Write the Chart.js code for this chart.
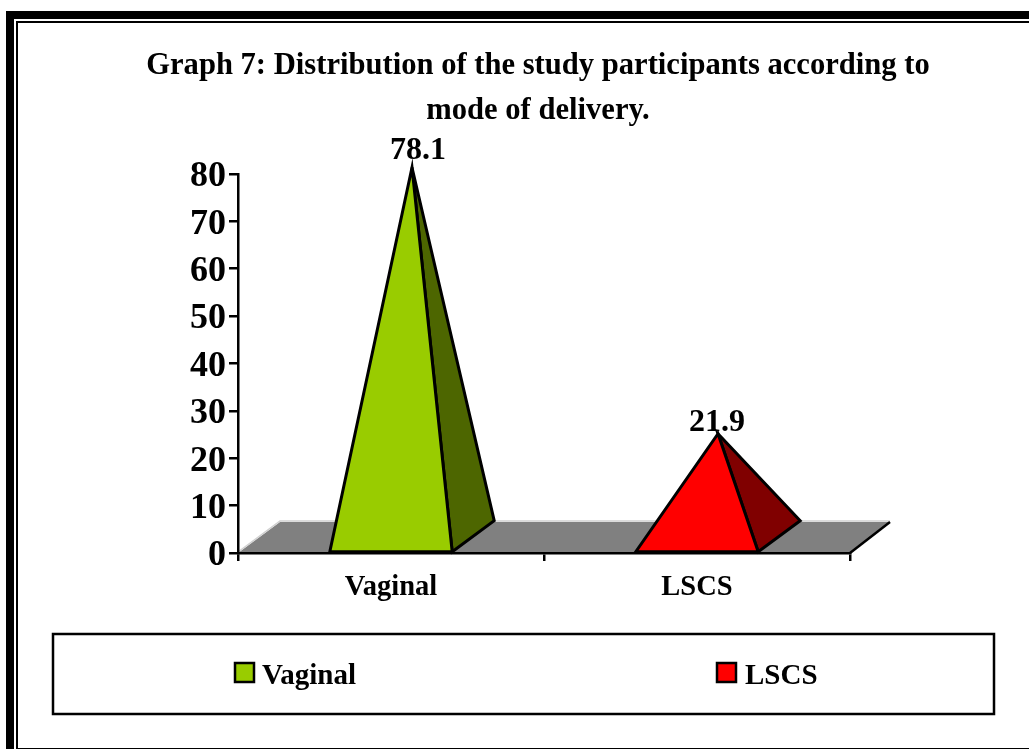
<!DOCTYPE html>
<html>
<head>
<meta charset="utf-8">
<title>Graph 7</title>
<script src="https://cdn.jsdelivr.net/npm/chart.js@4/dist/chart.umd.min.js"></script>
<style>
  html, body { margin: 0; padding: 0; background: #fff; }
  #wrap { position: relative; width: 1029px; height: 749px; overflow: hidden; }
  #thick { position: absolute; left: 6px; top: 11px; width: 1100px; height: 800px; border: 8px solid #000; border-right: 0; border-bottom: 0; }
  #thin { position: absolute; left: 16px; top: 21px; width: 1100px; height: 725px; border: 2px solid #000; border-right: 0; }
  canvas { position: absolute; left: 0; top: 0; }
</style>
</head>
<body>
<div id="wrap">
  <div id="thick"></div>
  <div id="thin"></div>
  <canvas id="chart" width="1029" height="749"></canvas>
</div>
<script>
const titleLines = ['Graph 7: Distribution of the study participants according to', 'mode of delivery.'];
const categories = ['Vaginal', 'LSCS'];
const values = [78.1, 21.9];
const yTicks = [0, 10, 20, 30, 40, 50, 60, 70, 80];
const frontColors = ['#99cc00', '#ff0000'];
const sideColors = ['#4d6600', '#800000'];

const serif = '"Liberation Serif", "Times New Roman", serif';
const depthX = 42, depthY = 31;

function poly(ctx, pts, fill, stroke, lw) {
  ctx.beginPath();
  pts.forEach((p, i) => i ? ctx.lineTo(p[0], p[1]) : ctx.moveTo(p[0], p[1]));
  ctx.closePath();
  if (fill) { ctx.fillStyle = fill; ctx.fill(); }
  if (stroke) { ctx.strokeStyle = stroke; ctx.lineWidth = lw; ctx.lineJoin = 'miter'; ctx.stroke(); }
}

// grey 3d floor under the pyramids
const floorPlugin = {
  id: 'floor',
  beforeDraw(chart) {
    const { ctx, chartArea: a } = chart;
    const y = chart.scales.y.getPixelForValue(0);
    ctx.save();
    poly(ctx, [[a.left, y], [a.left + depthX, y - depthY], [a.right + depthX - 2, y - depthY], [a.right, y]], '#808080');
    ctx.strokeStyle = '#d0d0d0';
    ctx.lineWidth = 1.5;
    ctx.beginPath();
    ctx.moveTo(a.left, y - 1);
    ctx.lineTo(a.left + depthX, y - depthY - 1);
    ctx.lineTo(a.right + depthX - 2, y - depthY - 1);
    ctx.stroke();
    ctx.strokeStyle = '#000';
    ctx.lineWidth = 2.5;
    ctx.beginPath();
    ctx.moveTo(a.right, y);
    ctx.lineTo(a.right + depthX - 2, y - depthY);
    ctx.stroke();
    ctx.restore();
  }
};

// the bars are laid out by chart.js, this turns each one into a pyramid
const pyramidPlugin = {
  id: 'pyramid',
  afterDatasetsDraw(chart) {
    const { ctx } = chart;
    const labelShift = [[6, -8], [-1, -3]];
    ctx.save();
    chart.getDatasetMeta(0).data.forEach((bar, i) => {
      const half = bar.width / 2;
      const apex = [bar.x + depthX / 2, bar.y - depthY / 2];
      const fr = [bar.x + half, bar.base];
      poly(ctx, [fr, [fr[0] + depthX, fr[1] - depthY], apex], sideColors[i], '#000', 3);
      poly(ctx, [[bar.x - half, bar.base], fr, apex], frontColors[i], '#000', 3);
      ctx.fillStyle = '#000';
      ctx.font = 'bold 32px ' + serif;
      ctx.textAlign = 'center';
      ctx.textBaseline = 'alphabetic';
      ctx.fillText(values[i].toFixed(1), apex[0] + labelShift[i][0], apex[1] + labelShift[i][1]);
    });
    ctx.restore();
  }
};

// boxed legend with wide spacing, the built in one can't be placed like this
const boxLegendPlugin = {
  id: 'boxLegend',
  afterDraw(chart) {
    const { ctx } = chart;
    const markerX = [235, 717];
    ctx.save();
    ctx.strokeStyle = '#000';
    ctx.lineWidth = 2.5;
    ctx.strokeRect(53, 634, 941, 80);
    ctx.font = 'bold 29px ' + serif;
    ctx.textAlign = 'left';
    ctx.textBaseline = 'alphabetic';
    categories.forEach((name, i) => {
      ctx.fillStyle = frontColors[i];
      ctx.fillRect(markerX[i], 663, 19, 19);
      ctx.strokeRect(markerX[i], 663, 19, 19);
      ctx.fillStyle = '#000';
      ctx.fillText(name, markerX[i] + (i ? 28 : 27), 684);
    });
    ctx.restore();
  }
};

new Chart(document.getElementById('chart'), {
  type: 'bar',
  data: {
    labels: categories,
    datasets: [{
      label: 'Mode of delivery',
      data: values,
      backgroundColor: 'rgba(0,0,0,0)',
      borderWidth: 0,
      categoryPercentage: 1,
      barPercentage: 0.4
    }]
  },
  options: {
    responsive: false,
    animation: false,
    layout: { padding: { left: 0, right: 179, top: 0, bottom: 0 } },
    plugins: {
      legend: { display: false },
      tooltip: { enabled: false },
      title: {
        display: true,
        text: titleLines,
        color: '#000',
        font: { family: serif, size: 30.6, weight: 'bold', lineHeight: 1.47 },
        padding: { top: 44, bottom: 40 }
      }
    },
    scales: {
      x: {
        afterFit(s) { s.height = 196; },
        grid: { drawOnChartArea: false, color: '#000', lineWidth: 2.5, tickLength: 8 },
        border: { color: '#000', width: 2.5 },
        ticks: { color: '#000', padding: 10, font: { family: serif, size: 28.5, weight: 'bold' } }
      },
      y: {
        min: 0,
        max: 80,
        afterFit(s) { s.width = 238; },
        afterBuildTicks(s) { s.ticks = yTicks.map(v => ({ value: v })); },
        grid: { drawOnChartArea: false, color: '#000', lineWidth: 2.5, tickLength: 9 },
        border: { color: '#000', width: 2.5 },
        ticks: { color: '#000', padding: 3, labelOffset: 3, font: { family: serif, size: 36, weight: 'bold' } }
      }
    }
  },
  plugins: [floorPlugin, pyramidPlugin, boxLegendPlugin, {
    id: 'shiftTitle',
    afterLayout(chart) {
      // title sits over the whole picture, not over the plot
      chart.titleBlock.left += 113;
      chart.titleBlock.right += 113;
    }
  }]
});
</script>
</body>
</html>
